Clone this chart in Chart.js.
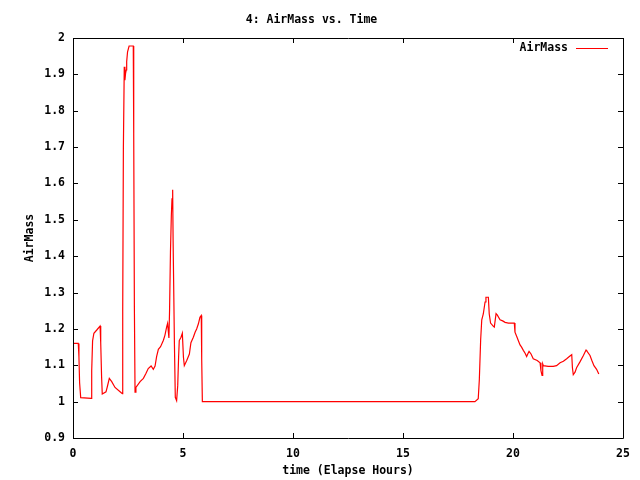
<!DOCTYPE html>
<html>
<head>
<meta charset="utf-8">
<script src="https://cdn.jsdelivr.net/npm/chart.js@4/dist/chart.umd.min.js"></script>
<style>
html,body{margin:0;padding:0;background:#fff;}
canvas{display:block;}
</style>
</head>
<body>
<canvas id="c" width="640" height="480"></canvas>
<script>
const chartTitle = "4: AirMass vs. Time";
const seriesName = "AirMass";
const xAxisTitle = "time (Elapse Hours)";
const yAxisTitle = "AirMass";

const xTickValues = [0, 5, 10, 15, 20, 25];
const xTickLabels = ["0", "5", "10", "15", "20", "25"];
const yTickValues = [0.9, 1.0, 1.1, 1.2, 1.3, 1.4, 1.5, 1.6, 1.7, 1.8, 1.9, 2.0];
const yTickLabels = ["0.9", "1", "1.1", "1.2", "1.3", "1.4", "1.5", "1.6", "1.7", "1.8", "1.9", "2"];

const timeHours = [
  0.00, 0.02, 0.24, 0.27, 0.30, 0.35, 0.83, 0.85, 0.89, 0.95, 1.08, 1.23, 1.26, 1.30, 1.33,
  1.50, 1.56, 1.65, 1.76, 1.91, 2.14, 2.24, 2.26, 2.29, 2.33, 2.36, 2.39, 2.42, 2.44, 2.48,
  2.55, 2.74, 2.76, 2.79, 2.82, 2.86, 3.05, 3.20, 3.32, 3.42, 3.55, 3.65, 3.73, 3.80, 3.88,
  3.98, 4.11, 4.18, 4.26, 4.30, 4.36, 4.39, 4.43, 4.47, 4.50, 4.53, 4.55, 4.61, 4.65, 4.71,
  4.76, 4.80, 4.83, 4.91, 4.97, 5.02, 5.06, 5.17, 5.29, 5.36, 5.47, 5.55, 5.62, 5.70, 5.77,
  5.83, 5.85, 5.88,
  18.27, 18.42, 18.47, 18.53, 18.58, 18.65, 18.73, 18.77, 18.88, 18.92, 18.98, 19.11, 19.15,
  19.23, 19.29, 19.41, 19.53, 19.64, 19.79, 20.06, 20.09, 20.17, 20.24, 20.32, 20.39, 20.47,
  20.55, 20.62, 20.67, 20.73, 20.82, 20.92, 21.10, 21.23, 21.27, 21.32, 21.35, 21.38, 21.60,
  21.83, 21.98, 22.14, 22.29, 22.44, 22.56, 22.67, 22.70, 22.74, 22.82, 22.89, 23.05, 23.20,
  23.32, 23.35, 23.50, 23.58, 23.68, 23.80, 23.90
];
const airMass = [
  1.065, 1.160, 1.160, 1.123, 1.052, 1.011, 1.009, 1.084, 1.167, 1.188, 1.197, 1.208, 1.162, 1.068, 1.021,
  1.027, 1.041, 1.064, 1.055, 1.039, 1.027, 1.022, 1.247, 1.696, 1.921, 1.884, 1.903, 1.912, 1.935, 1.962,
  1.978, 1.978, 1.737, 1.262, 1.026, 1.039, 1.055, 1.064, 1.078, 1.091, 1.098, 1.089, 1.098, 1.124, 1.144,
  1.151, 1.169, 1.183, 1.206, 1.215, 1.175, 1.252, 1.411, 1.512, 1.558, 1.583, 1.444, 1.159, 1.012, 1.003,
  1.044, 1.122, 1.168, 1.177, 1.188, 1.122, 1.099, 1.113, 1.131, 1.162, 1.177, 1.191, 1.200, 1.214, 1.232,
  1.237, 1.118, 1.000,
  1.000, 1.008, 1.061, 1.170, 1.225, 1.241, 1.274, 1.287, 1.287, 1.241, 1.216, 1.207, 1.205,
  1.242, 1.238, 1.225, 1.222, 1.218, 1.216, 1.216, 1.191, 1.179, 1.168, 1.156, 1.150, 1.141,
  1.133, 1.124, 1.131, 1.138, 1.131, 1.118, 1.113, 1.107, 1.085, 1.072, 1.104, 1.099, 1.097,
  1.097, 1.099, 1.107, 1.111, 1.118, 1.124, 1.129, 1.094, 1.074, 1.081, 1.093, 1.110, 1.127,
  1.142, 1.140, 1.127, 1.114, 1.099, 1.089, 1.076
];

const FONT = "'DejaVu Sans Mono', 'Liberation Mono', monospace";
const fontSpec = {family: FONT, size: 11.5, weight: 'bold', lineHeight: 1.2};

const framePlugin = {
  id: 'frame',
  afterDraw(chart) {
    const ctx = chart.ctx;
    const {left, right, top, bottom} = chart.chartArea;
    const xs = chart.scales.x, ys = chart.scales.y;
    const tl = 5;
    ctx.save();
    ctx.strokeStyle = '#000';
    ctx.lineWidth = 1;
    ctx.beginPath();
    ctx.rect(Math.round(left) + 0.5, Math.round(top) + 0.5, Math.round(right - left), Math.round(bottom - top));
    xTickValues.forEach(v => {
      const p = Math.round(xs.getPixelForValue(v)) + 0.5;
      ctx.moveTo(p, bottom); ctx.lineTo(p, bottom - tl);
      ctx.moveTo(p, top); ctx.lineTo(p, top + tl);
    });
    yTickValues.forEach(v => {
      const p = Math.round(ys.getPixelForValue(v)) + 0.5;
      ctx.moveTo(left, p); ctx.lineTo(left + tl, p);
      ctx.moveTo(right, p); ctx.lineTo(right - tl, p);
    });
    ctx.stroke();
    // key
    const ky = 48;
    ctx.font = "bold 11.5px " + FONT;
    ctx.fillStyle = '#000';
    ctx.textAlign = 'right';
    ctx.textBaseline = 'middle';
    ctx.fillText(seriesName, 568, ky);
    ctx.strokeStyle = chart.data.datasets[0].borderColor;
    ctx.beginPath();
    ctx.moveTo(576, ky + 0.5); ctx.lineTo(608, ky + 0.5);
    ctx.stroke();
    ctx.restore();
  }
};

const bgPlugin = {
  id: 'bg',
  beforeDraw(chart) {
    const ctx = chart.ctx;
    ctx.save();
    ctx.fillStyle = '#fff';
    ctx.fillRect(0, 0, chart.width, chart.height);
    ctx.restore();
  }
};

new Chart(document.getElementById('c'), {
  type: 'line',
  data: {
    datasets: [{
      label: seriesName,
      data: timeHours.map((t, i) => ({x: t, y: airMass[i]})),
      borderColor: '#ff0000',
      borderWidth: 1.2,
      pointRadius: 0,
      tension: 0,
      fill: false
    }]
  },
  options: {
    responsive: false,
    animation: false,
    events: [],
    layout: {padding: {left: 0, right: 17, top: 0, bottom: 0}},
    plugins: {
      legend: {display: false},
      tooltip: {enabled: false},
      title: {
        display: true,
        text: chartTitle,
        color: '#000',
        font: fontSpec,
        padding: {top: 13, bottom: 11.2}
      }
    },
    scales: {
      x: {
        type: 'linear',
        min: 0, max: 25,
        afterBuildTicks: s => { s.ticks = xTickValues.map(v => ({value: v})); },
        afterFit: s => { s.height = 42; },
        ticks: {
          color: '#000', font: fontSpec, padding: 9, maxRotation: 0,
          callback: (v, i) => xTickLabels[i]
        },
        grid: {display: false, drawTicks: false},
        border: {display: false},
        title: {display: true, text: xAxisTitle, color: '#000', font: fontSpec, padding: {top: 0, bottom: 2}}
      },
      y: {
        type: 'linear',
        min: 0.9, max: 2.0,
        afterBuildTicks: s => { s.ticks = yTickValues.map(v => ({value: v})); },
        afterFit: s => { s.width = 73; },
        ticks: {
          color: '#000', font: fontSpec, padding: 8,
          callback: (v, i) => yTickLabels[i]
        },
        grid: {display: false, drawTicks: false},
        border: {display: false},
        title: {display: true, text: yAxisTitle, color: '#000', font: fontSpec, padding: {top: 23, bottom: 0}}
      }
    }
  },
  plugins: [bgPlugin, framePlugin]
});
</script>
</body>
</html>
